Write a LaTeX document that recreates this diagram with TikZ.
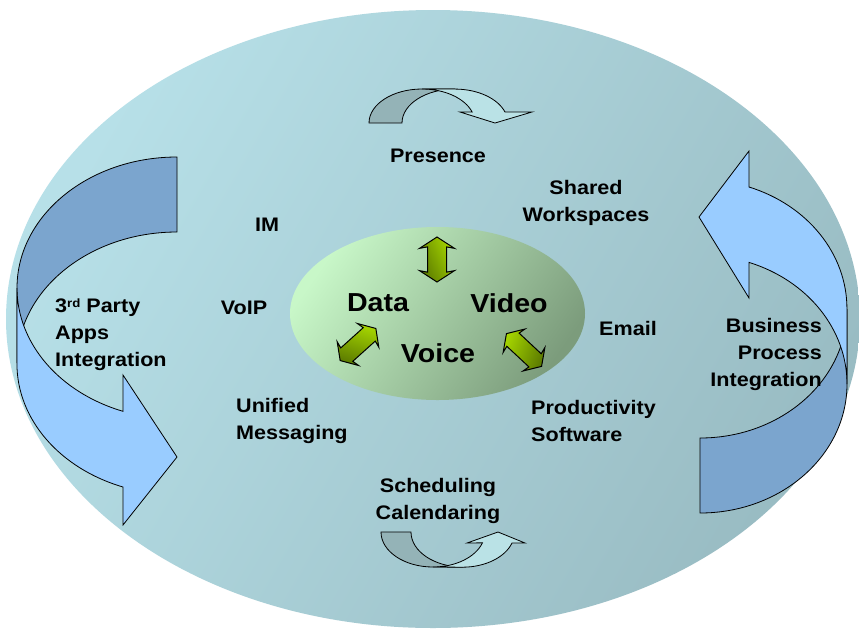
\documentclass[tikz,border=0pt]{standalone}
\usepackage{fontspec}
\setmainfont{Liberation Sans}[FakeStretch=1.1]
\usetikzlibrary{shapes.geometric,shapes.arrows}
\definecolor{rimlight}{HTML}{B7E0E8}
\definecolor{rimdark}{HTML}{99BCC3}
\definecolor{hublight}{HTML}{C8F7C8}
\definecolor{hubdark}{HTML}{7C9C7C}
\definecolor{loopback}{HTML}{7BA5CE}
\definecolor{loopfront}{HTML}{99CCFF}
\definecolor{turnback}{HTML}{94B3B7}
\definecolor{turnfront}{HTML}{BAE2E6}
\definecolor{linkbright}{HTML}{A6D600}
\definecolor{linkdark}{HTML}{5B7A00}
\tikzset{
    service/.style = {font=\fontsize{19.6}{27}\selectfont\bfseries, inner sep=0pt},
    core/.style = {font=\fontsize{26}{28}\selectfont\bfseries, inner sep=0pt},
    loop-back/.style = {draw=black, line width=0.8pt, fill=loopback},
    loop-front/.style = {draw=black, line width=0.8pt, fill=loopfront},
    turn-back/.style = {draw=black, line width=0.8pt, fill=turnback},
    turn-front/.style = {draw=black, line width=0.8pt, fill=turnfront},
    link/.style = {double arrow, draw=black, line width=1pt, inner xsep=0pt, inner ysep=9pt, minimum height=45pt, double arrow head extend=8pt, double arrow tip angle=114, double arrow head indent=1.5pt, top color=linkbright, bottom color=linkdark},
    link-small/.style = {link, inner ysep=8.5pt, minimum height=48pt, double arrow head extend=7pt},
}

\begin{document}
\begin{tikzpicture}[x=1pt, y=-1pt]
\useasboundingbox (0,0) rectangle (859,630);
\clip (0,0) rectangle (859,630);
\fill[white] (0,0) rectangle (859,630);

% outer ring and hub
\node[ellipse, inner sep=0pt, minimum width=854pt, minimum height=618pt, left color=rimlight, right color=rimdark, shading angle=60] (rim) at (433,319) {};
\node[ellipse, inner sep=0pt, minimum width=295pt, minimum height=173pt, left color=hublight, right color=hubdark, shading angle=55] (hub) at (437.5,313.5) {};

% big side loops
\draw[loop-back] (177,157) arc[start angle=-90, end angle=-180, x radius=160, y radius=131] -- (17,363) arc[start angle=180, end angle=270, x radius=160, y radius=131] -- cycle;
\draw[loop-front] (17,288) arc[start angle=180, end angle=109.7, x radius=160, y radius=131] -- (123,375) -- (177,457) -- (123,525) -- (123,487) arc[start angle=109.7, end angle=180, x radius=160, y radius=131] -- cycle;

\draw[loop-back] (700,513) arc[start angle=90, end angle=0, x radius=147, y radius=129] -- (847,309) arc[start angle=0, end angle=90, x radius=147, y radius=129] -- cycle;
\draw[loop-front] (847,384) arc[start angle=0, end angle=-70.5, x radius=147, y radius=129] -- (749,298) -- (699,217) -- (749,151) -- (749,187) arc[start angle=-70.5, end angle=0, x radius=147, y radius=129] -- cycle;

% small turns top and bottom
\draw[turn-back] (369,123) arc[start angle=180, end angle=270, x radius=53, y radius=34] -- (455,89) arc[start angle=270, end angle=180, x radius=53, y radius=34] -- cycle;
\draw[turn-front] (422,89) arc[start angle=270, end angle=341, x radius=53, y radius=34] -- (460,112) -- (495,123) -- (532,112) -- (505,112) arc[start angle=341, end angle=270, x radius=53, y radius=34] -- cycle;

\draw[turn-back] (381,532) arc[start angle=180, end angle=90, x radius=52, y radius=35] -- (463,567) arc[start angle=90, end angle=180, x radius=52, y radius=35] -- cycle;
\draw[turn-front] (433,567) arc[start angle=90, end angle=18, x radius=52, y radius=35] -- (467,543) -- (498,532) -- (525,543) -- (512,543) arc[start angle=18, end angle=90, x radius=52, y radius=35] -- cycle;

% green links inside the hub
\node[link, rotate=90, shading angle=-65] (link-up) at (437,259.5) {};
\node[link-small, rotate=42, shading angle=-17] (link-left) at (358,344.5) {};
\node[link-small, rotate=-43, shading angle=68] (link-right) at (524,350) {};

% labels
\node[core] (data) at (378,303) {Data};
\node[core] (video) at (509,303) {Video};
\node[core] (voice) at (438,353) {Voice};

\node[service] (presence) at (438,156) {Presence};
\node[service, align=center] (workspaces) at (586,203) {Shared\\Workspaces};
\node[service] (im) at (267,225) {IM};
\node[service] (voip) at (244,308) {VoIP};
\node[service] (email) at (628,328) {Email};
\node[service, align=left, anchor=west] (third-party) at (55,335) {3{\fontsize{12}{12}\selectfont\raisebox{5pt}{rd}} Party\\Apps\\Integration};
\node[service, align=right, anchor=east] (business) at (822,354) {Business\\Process\\Integration};
\node[service, align=left, anchor=west] (messaging) at (236,421) {Unified\\Messaging};
\node[service, align=left, anchor=west] (productivity) at (531,421) {Productivity\\Software};
\node[service, align=center] (scheduling) at (438,501) {Scheduling\\Calendaring};
\end{tikzpicture}
\end{document}
